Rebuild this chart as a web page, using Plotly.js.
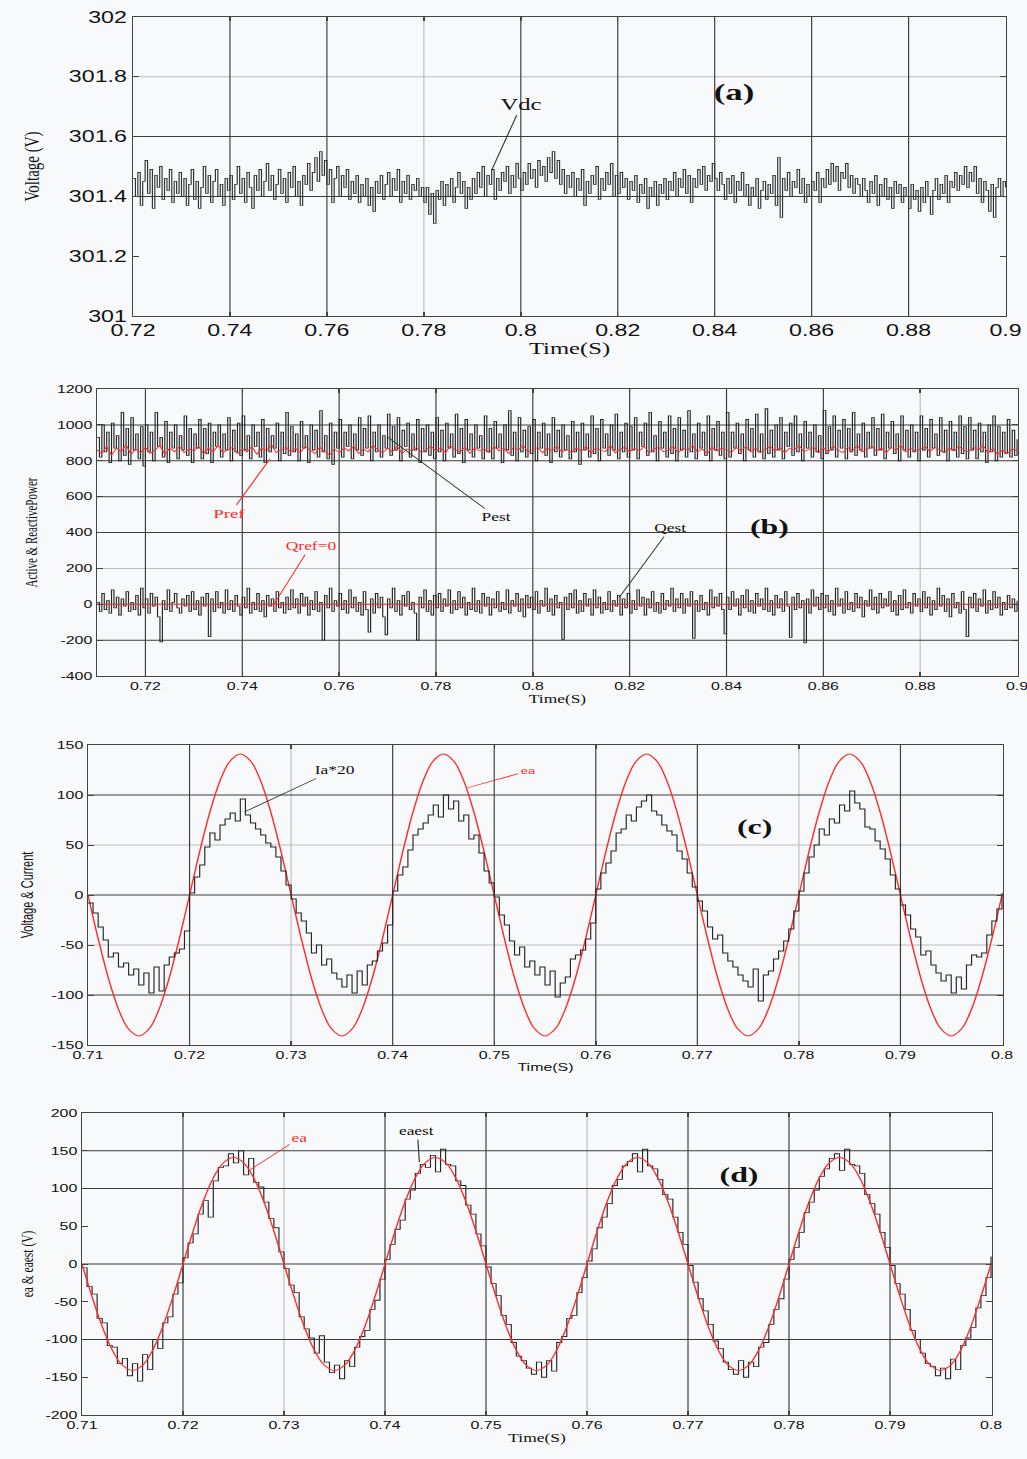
<!DOCTYPE html>
<html><head><meta charset="utf-8">
<script src="https://cdn.plot.ly/plotly-3.0.1.min.js"></script>
<style>
html,body{margin:0;padding:0;background:#f8f9fb;overflow:hidden;width:1027px;height:1459px;}
#chart{width:708px;height:1459px;transform:scaleX(1.4506);transform-origin:0 0;}
</style></head><body><div id="chart"></div>
<script>
// ---------- (a) DC-link voltage, sampled every 0.5 ms from 0.72 s ----------
const vdc = [
301.46,301.40,301.48,301.37,301.45,301.52,301.41,301.49,301.36,301.47,301.43,301.50,301.39,301.46,301.42,301.49,301.38,301.45,301.41,301.48,
301.40,301.46,301.37,301.44,301.49,301.39,301.45,301.36,301.43,301.50,301.41,301.47,301.38,301.45,301.49,301.40,301.44,301.37,301.46,301.42,
301.47,301.39,301.44,301.50,301.41,301.46,301.38,301.48,301.43,301.36,301.47,301.42,301.49,301.40,301.45,301.51,301.42,301.47,301.39,301.44,
301.49,301.41,301.46,301.38,301.48,301.43,301.50,301.40,301.45,301.37,301.47,301.44,301.51,301.42,301.48,301.53,301.45,301.55,301.47,301.52,
301.44,301.49,301.38,301.46,301.50,301.40,301.47,301.43,301.49,301.39,301.45,301.41,301.47,301.38,301.44,301.40,301.46,301.37,301.43,301.35,
301.45,301.41,301.47,301.39,301.44,301.48,301.40,301.46,301.42,301.49,301.38,301.45,301.41,301.47,301.39,301.44,301.42,301.46,301.40,301.43,
301.38,301.43,301.34,301.41,301.31,301.42,301.39,301.45,301.37,301.44,301.40,301.46,301.38,301.43,301.48,301.41,301.45,301.36,301.43,301.39,
301.46,301.41,301.48,301.43,301.50,301.40,301.47,301.44,301.49,301.39,301.46,301.42,301.48,301.45,301.50,301.41,301.47,301.43,301.51,301.46,
301.42,301.48,301.44,301.51,301.46,301.49,301.43,301.52,301.47,301.50,301.45,301.53,301.48,301.55,301.46,301.52,301.44,301.49,301.41,301.47,
301.43,301.48,301.40,301.46,301.42,301.49,301.37,301.45,301.41,301.47,301.44,301.50,301.39,301.46,301.42,301.48,301.44,301.51,301.40,301.47,
301.41,301.48,301.43,301.46,301.39,301.45,301.42,301.47,301.38,301.44,301.41,301.46,301.36,301.43,301.40,301.45,301.37,301.44,301.41,301.46,
301.39,301.45,301.42,301.48,301.40,301.46,301.43,301.49,301.41,301.47,301.38,301.46,301.43,301.49,301.44,301.50,301.42,301.47,301.45,301.51,
301.46,301.42,301.48,301.44,301.39,301.46,301.41,301.47,301.38,301.45,301.42,301.48,301.40,301.44,301.37,301.43,301.40,301.46,301.36,301.42,
301.45,301.39,301.44,301.41,301.47,301.37,301.53,301.33,301.46,301.42,301.48,301.40,301.45,301.43,301.49,301.41,301.46,301.38,301.44,301.40,
301.45,301.42,301.48,301.38,301.46,301.43,301.49,301.44,301.51,301.45,301.50,301.42,301.48,301.46,301.51,301.43,301.47,301.41,301.46,301.44,
301.40,301.46,301.42,301.38,301.45,301.41,301.47,301.37,301.44,301.40,301.46,301.39,301.43,301.36,301.45,301.41,301.44,301.38,301.43,301.40,
301.36,301.44,301.39,301.42,301.35,301.43,301.38,301.45,301.40,301.34,301.42,301.46,301.39,301.44,301.41,301.47,301.38,301.45,301.43,301.48,
301.42,301.47,301.44,301.50,301.43,301.48,301.45,301.50,301.41,301.46,301.38,301.45,301.42,301.35,301.44,301.33,301.43,301.46,301.40,301.45,
301.43];

// ---------- (b) active / reactive power, every 0.5 ms from 0.71 s ----------
const pest = [
930,820,1000,850,960,790,1010,870,940,800,1070,830,980,780,1040,860,950,810,990,770,
1000,850,960,800,1070,880,930,820,1020,790,960,870,1000,810,940,860,1050,830,980,790,
950,870,1030,810,980,840,1010,790,960,880,1000,820,950,860,1040,800,970,850,1010,830,
1050,860,940,810,1000,880,960,820,1030,790,980,850,940,870,1010,800,960,840,1070,830,
990,850,950,800,1020,870,940,790,1000,860,970,820,1080,850,940,810,1010,780,960,870,
1030,820,960,880,1000,810,950,860,1040,830,980,870,1050,800,960,850,1000,820,940,870,
1060,830,990,860,1040,800,970,880,1010,820,950,860,1030,790,980,850,1000,830,960,810,
1040,850,970,800,1010,870,950,820,1060,840,980,790,1030,860,950,820,1000,870,940,810,
1050,850,980,810,1020,870,950,790,1000,860,1080,830,960,800,1040,850,970,820,990,840,
1030,800,960,870,1010,830,950,790,1040,850,970,820,1000,860,940,810,1020,850,960,780,
1010,860,950,820,1050,840,980,800,1030,870,950,830,1000,860,1060,810,960,850,1010,820,
990,860,1040,810,960,880,1010,830,1070,850,940,800,1020,870,960,820,1050,840,980,800,
1040,860,970,820,1080,850,950,810,1010,870,960,830,1050,800,980,860,1020,830,960,810,
1070,820,960,870,1010,840,950,800,1030,860,980,820,1060,850,950,810,1090,840,970,820,
1000,860,1040,810,960,880,1010,830,1050,850,950,800,1020,870,960,820,1000,850,940,810,
1080,840,990,860,1050,820,970,870,1030,810,980,850,1070,830,950,860,1010,820,960,870,
1040,830,980,860,1060,810,960,870,1020,840,950,800,1050,860,970,820,1000,850,960,800,
1050,860,980,820,1030,870,950,830,1040,850,970,800,1020,860,960,820,1050,840,990,810,
1040,860,970,810,1010,850,960,790,1000,850,1050,800,990,820,960,840,1030,820,970,830,
920];
// Pref every 1 ms from 0.71 s
const pref = [
860,840,880,830,870,850,890,835,865,845,
875,840,860,885,835,870,850,880,845,865,
855,880,840,870,850,885,845,860,875,840,
865,850,880,835,870,855,890,845,860,875,
850,870,845,880,860,840,875,855,830,865,
845,870,855,880,840,865,850,885,860,845,
870,850,880,840,865,855,875,845,860,880,
855,870,845,885,860,850,875,840,870,855,
865,845,880,855,870,840,875,860,885,850,
860,875,845,870,855,880,850,865,845,870,
855,880,845,870,860,850,885,845,865,875,
850,870,855,880,845,865,875,850,860,880,
845,870,860,885,850,865,840,875,855,870,
860,845,875,855,880,850,870,845,865,880,
855,875,845,870,860,885,850,865,875,845,
870,850,880,860,845,875,855,885,850,865,
880,855,870,845,875,860,885,850,870,855,
865,880,850,875,860,845,870,855,880,860,
850,875,860,885,845,870,835,860,840,865,
855];
const qest = [
10,-40,60,-30,20,-50,80,-20,40,-60,30,-10,70,-40,10,-30,50,-60,90,-20,
30,-50,60,-10,40,-70,-210,20,-30,80,-40,10,60,-20,-50,30,-10,50,-40,70,
-30,20,-60,40,-10,60,-180,30,-40,70,-20,10,-50,80,-30,20,-40,50,-10,-60,
40,-20,90,-50,10,-30,60,-40,20,-70,50,-10,30,-40,70,-20,10,-50,40,-30,
80,-20,30,-50,60,-10,40,-60,20,-30,70,-40,10,-200,50,-20,90,-40,20,-10,
60,-30,20,-50,80,-20,40,-40,10,-60,70,-30,-155,30,-50,60,-20,40,-70,-170,
30,-20,90,-40,20,-60,50,-10,70,-30,10,-50,-200,40,-20,80,-40,20,-60,50,
-20,60,-40,30,-10,80,-50,20,-30,70,-20,40,-60,10,-30,90,-40,20,-50,60,
-10,40,-60,30,-20,70,-40,10,-30,80,-50,20,-10,60,-40,30,-70,50,-20,40,
-30,70,-50,20,-10,90,-40,30,-60,50,-20,10,-195,40,-30,60,-20,80,-50,20,
-40,60,-10,30,-60,80,-20,40,-50,10,-30,70,-40,20,-10,50,-60,30,-20,60,
-50,20,-30,80,-10,40,-60,30,-20,70,-40,10,-50,60,-30,20,-10,90,-40,30,
-20,60,-50,30,-10,70,-190,20,-40,50,-30,10,-60,80,-20,40,-10,60,-30,-165,
40,-30,70,-10,30,-60,50,-20,80,-40,20,-50,60,-10,30,-30,90,-40,20,-60,
50,-20,30,-40,70,-10,-185,40,-30,60,-20,20,-215,30,-50,80,-10,40,-30,60,
-20,50,-40,20,-60,90,-10,30,-50,70,-30,10,-40,60,-20,40,-70,20,-10,80,
-30,40,-50,60,-20,30,-10,70,-40,20,-60,50,-30,80,-20,10,-50,60,-10,30,
-40,70,-20,40,-60,20,-30,90,-10,50,-40,30,-70,60,-20,10,-50,70,-30,-180,
40,-20,60,-40,30,-10,80,-50,20,-30,70,-20,40,-60,10,-30,50,-20,30,-40,
20];
const qrefT = [0.71, 0.90];
const qref = [0, 0];

// ---------- (c) phase current x20, every 0.5 ms from 0.71 s ----------
const ia20 = [
-8,-18,-32,-45,-62,-58,-72,-68,-80,-74,-90,-78,-98,-72,-96,-70,-62,-58,-54,-36,
2,18,30,48,62,55,70,76,82,74,96,80,72,66,60,52,48,38,24,10,
-4,-18,-26,-38,-58,-50,-70,-64,-78,-84,-92,-80,-98,-76,-90,-70,-66,-56,-48,-30,
4,20,28,45,60,66,72,80,90,78,100,86,94,74,80,56,60,42,24,12,
-2,-20,-30,-46,-60,-52,-72,-66,-80,-72,-90,-76,-102,-88,-82,-64,-60,-55,-44,-28,
6,22,32,44,62,66,80,74,88,94,100,84,80,70,64,60,44,36,22,8,
-6,-16,-32,-44,-40,-58,-66,-72,-80,-86,-92,-74,-106,-80,-76,-64,-56,-46,-34,-16,
4,22,38,50,66,60,76,72,90,84,104,92,86,68,66,54,46,36,20,6,
-10,-20,-34,-42,-60,-56,-70,-78,-86,-80,-98,-82,-94,-70,-60,-62,-58,-40,-26,-14,
2];
// grid voltage ea, every 1 ms from 0.71 s (used in c and d)
const ea = [
0,-43.6,-82.9,-114.1,-134.1,-141,-134.1,-114.1,-82.9,-43.6,0,43.6,82.9,114.1,134.1,141,134.1,114.1,82.9,43.6,
0,-43.6,-82.9,-114.1,-134.1,-141,-134.1,-114.1,-82.9,-43.6,0,43.6,82.9,114.1,134.1,141,134.1,114.1,82.9,43.6,
0,-43.6,-82.9,-114.1,-134.1,-141,-134.1,-114.1,-82.9,-43.6,0,43.6,82.9,114.1,134.1,141,134.1,114.1,82.9,43.6,
0,-43.6,-82.9,-114.1,-134.1,-141,-134.1,-114.1,-82.9,-43.6,0,43.6,82.9,114.1,134.1,141,134.1,114.1,82.9,43.6,
0,-43.6,-82.9,-114.1,-134.1,-141,-134.1,-114.1,-82.9,-43.6,0];
// ---------- (d) estimated voltage, every 0.5 ms from 0.71 s ----------
const eaest = [
-5,-30,-40,-72,-78,-108,-110,-132,-125,-148,-132,-155,-120,-140,-100,-112,-78,-70,-40,-25,
8,28,40,66,84,62,110,128,130,146,134,150,118,140,108,102,82,60,48,16,
-6,-28,-38,-70,-86,-98,-118,-95,-130,-144,-134,-152,-128,-136,-110,-96,-88,-60,-48,-20,
6,26,46,58,86,98,120,132,128,144,122,152,132,130,110,104,78,66,40,24,
-4,-26,-42,-68,-80,-104,-122,-128,-138,-146,-130,-150,-128,-142,-104,-96,-72,-68,-38,-18,
4,20,48,62,80,104,112,130,136,146,122,152,130,126,112,92,86,62,42,26,
-2,-24,-46,-62,-80,-102,-112,-130,-140,-146,-128,-150,-130,-136,-110,-104,-80,-60,-46,-20,
6,22,42,68,82,98,116,126,140,146,124,152,132,130,120,92,80,66,42,22,
-2,-26,-40,-60,-88,-100,-118,-132,-136,-148,-138,-152,-126,-140,-108,-98,-84,-58,-42,-18,
10];

// ---------- tick values / labels ----------
const tickA_x = [0.72,0.74,0.76,0.78,0.80,0.82,0.84,0.86,0.88,0.90];
const tickA_xt = ["0.72","0.74","0.76","0.78","0.8","0.82","0.84","0.86","0.88","0.9"];
const tickA_y = [301,301.2,301.4,301.6,301.8,302];
const tickA_yt = ["301","301.2","301.4","301.6","301.8","302"];
const tickB_y = [-400,-200,0,200,400,600,800,1000,1200];
const tickB_yt = ["-400","-200","0","200","400","600","800","1000","1200"];
const tickC_x = [0.71,0.72,0.73,0.74,0.75,0.76,0.77,0.78,0.79,0.80];
const tickC_xt = ["0.71","0.72","0.73","0.74","0.75","0.76","0.77","0.78","0.79","0.8"];
const tickC_y = [-150,-100,-50,0,50,100,150];
const tickC_yt = ["-150","-100","-50","0","50","100","150"];
const tickD_y = [-200,-150,-100,-50,0,50,100,150,200];
const tickD_yt = ["-200","-150","-100","-50","0","50","100","150","200"];

// ---------- grid lines drawn in each panel (dark / light) ----------
const gridA = {xd:[0.74,0.76,0.80,0.82,0.84,0.86,0.88], xl:[0.78], yd:[301.4,301.6], yl:[301.8]};
const gridB = {xd:[0.72,0.74,0.76,0.78,0.80,0.82,0.84,0.86], xl:[0.88], yd:[-200,400,600,800,1000], yl:[0,200]};
const gridC = {xd:[0.72,0.74,0.75,0.76,0.77,0.79], xl:[0.73,0.78], yd:[-100,0,100], yl:[50,-50]};
const gridD = {xd:[0.72,0.74,0.75,0.77,0.78,0.79], xl:[0.73,0.76], yd:[-100,0,100,150], yl:[]};

function timeAxis(t0, dt, n){const a=[];for(let i=0;i<n;i++)a.push(+(t0+i*dt).toFixed(5));return a;}
const tA = timeAxis(0.72,0.0005,vdc.length);
const tB = timeAxis(0.71,0.0005,pest.length);
const tBr = timeAxis(0.71,0.001,pref.length);
const tC = timeAxis(0.71,0.0005,ia20.length);
const tE = timeAxis(0.71,0.001,ea.length);

const W = 1027, H = 1459;
const dom = (x0,x1,y0,y1)=>({x:[x0/W,x1/W], y:[1-y1/H,1-y0/H]});
const dA = dom(133,1006,17,316), dB = dom(97,1018,389,676), dC = dom(88,1003,745,1045), dD = dom(82,992,1113,1415);

const dark = '#262626', red = '#ff2b2b';
const gDark = '#3c3c3c', gLight = '#bdbdbd';
function axis(domain, anchor, range, tv, tt, fsize, extra){
  return Object.assign({domain:domain, anchor:anchor, range:range, tickmode:'array', tickvals:tv, ticktext:tt,
    showline:true, linecolor:'#444', linewidth:1, mirror:'ticks', ticks:'inside', ticklen:4, tickcolor:'#444',
    showgrid:false, zeroline:false, fixedrange:true, ticklabeloverflow:'allow',
    tickfont:{family:'Liberation Sans, Arial, sans-serif', size:fsize, color:'#111'}}, extra||{});
}
function gridShapes(g, xr, yr){
  const s = [];
  const add = (vals, vertical, col, w) => vals.forEach(v => s.push(vertical ?
    {type:'line', xref:xr, yref:yr+' domain', x0:v, x1:v, y0:0, y1:1, line:{color:col, width:w}, layer:'below'} :
    {type:'line', xref:xr+' domain', yref:yr, x0:0, x1:1, y0:v, y1:v, line:{color:col, width:w}, layer:'below'}));
  add(g.xl, true, gLight, 0.8); add(g.yl, false, gLight, 1);
  add(g.xd, true, gDark, 0.8); add(g.yd, false, gDark, 1);
  return s;
}

const traces = [
  {x:tA, y:vdc, xaxis:'x', yaxis:'y', mode:'lines', line:{color:'#333', width:0.8, shape:'hv'}, name:'Vdc'},
  {x:tB, y:pest, xaxis:'x2', yaxis:'y2', mode:'lines', line:{color:dark, width:0.8, shape:'hv'}, name:'Pest'},
  {x:tBr, y:pref, xaxis:'x2', yaxis:'y2', mode:'lines', line:{color:red, width:0.8}, name:'Pref'},
  {x:tB, y:qest, xaxis:'x2', yaxis:'y2', mode:'lines', line:{color:dark, width:0.8, shape:'hv'}, name:'Qest'},
  {x:qrefT, y:qref, xaxis:'x2', yaxis:'y2', mode:'lines', line:{color:red, width:1}, name:'Qref'},
  {x:tE, y:ea, xaxis:'x3', yaxis:'y3', mode:'lines', line:{color:red, width:1, shape:'spline'}, name:'ea'},
  {x:tC, y:ia20, xaxis:'x3', yaxis:'y3', mode:'lines', line:{color:dark, width:0.8, shape:'hv'}, name:'Ia*20'},
  {x:tC, y:eaest, xaxis:'x4', yaxis:'y4', mode:'lines', line:{color:dark, width:0.8, shape:'hv'}, name:'eaest'},
  {x:tE, y:ea, xaxis:'x4', yaxis:'y4', mode:'lines', line:{color:red, width:1, shape:'spline'}, name:'ea'}
];

const serif = 'Liberation Serif, Times New Roman, serif';
const sans = 'Liberation Sans, Arial, sans-serif';
const layout = {
  width:708, height:1459, margin:{l:0,r:0,t:0,b:0}, showlegend:false,
  paper_bgcolor:'#f8f9fb', plot_bgcolor:'#f8f9fb',
  xaxis: axis(dA.x,'y',[0.72,0.9001],tickA_x,tickA_xt,16,{title:{text:'Time(S)',font:{family:serif,size:17,color:'#111'},standoff:2}}),
  yaxis: axis(dA.y,'x',[301,302],tickA_y,tickA_yt,16,{title:{text:'Voltage (V)',font:{family:serif,size:15,color:'#111'},standoff:16}}),
  xaxis2: axis(dB.x,'y2',[0.71,0.9002],tickA_x,tickA_xt,11,{title:{text:'Time(S)',font:{family:serif,size:12,color:'#111'},standoff:2}}),
  yaxis2: axis(dB.y,'x2',[-400,1200],tickB_y,tickB_yt,11,{title:{text:'Active & ReactivePower',font:{family:serif,size:11,color:'#111'},standoff:10}}),
  xaxis3: axis(dC.x,'y3',[0.71,0.8001],tickC_x,tickC_xt,11,{title:{text:'Time(S)',font:{family:sans,size:11,color:'#111'},standoff:3}}),
  yaxis3: axis(dC.y,'x3',[-150,150],tickC_y,tickC_yt,11,{title:{text:'Voltage & Current',font:{family:sans,size:11,color:'#111'},standoff:9}}),
  xaxis4: axis(dD.x,'y4',[0.71,0.8001],tickC_x,tickC_xt,11,{title:{text:'Time(S)',font:{family:serif,size:12,color:'#111'},standoff:3}, linewidth:1.2}),
  yaxis4: axis(dD.y,'x4',[-200,200],tickD_y,tickD_yt,11,{title:{text:'ea & eaest (V)',font:{family:serif,size:11.5,color:'#111'},standoff:5}}),
  shapes: [].concat(gridShapes(gridA,'x','y'), gridShapes(gridB,'x2','y2'), gridShapes(gridC,'x3','y3'), gridShapes(gridD,'x4','y4')),
  annotations: [
    {xref:'x',yref:'y',x:0.794,y:301.488,ax:20.7,ay:-66,text:'Vdc',showarrow:true,arrowhead:0,arrowwidth:0.8,arrowcolor:'#333',font:{family:serif,size:17,color:'#111'}},
    {xref:'x',yref:'y',x:0.8441,y:301.749,text:'(a)',showarrow:false,font:{family:serif,size:24,color:'#111',weight:'bold'}},
    {xref:'x2',yref:'y2',x:0.7457,y:810,ax:-27.6,ay:55,text:'Pref',showarrow:true,arrowhead:0,arrowwidth:0.8,arrowcolor:red,font:{family:serif,size:13,color:red}},
    {xref:'x2',yref:'y2',x:0.770,y:932,ax:75,ay:80,text:'Pest',showarrow:true,arrowhead:0,arrowwidth:0.8,arrowcolor:'#333',font:{family:serif,size:12,color:'#111'}},
    {xref:'x2',yref:'y2',x:0.8179,y:40,ax:35,ay:-69,text:'Qest',showarrow:true,arrowhead:0,arrowwidth:0.8,arrowcolor:'#333',font:{family:serif,size:12,color:'#111'}},
    {xref:'x2',yref:'y2',x:0.7463,y:-10,ax:26,ay:-60,text:'Qref=0',showarrow:true,arrowhead:0,arrowwidth:0.8,arrowcolor:red,font:{family:serif,size:12,color:red}},
    {xref:'x2',yref:'y2',x:0.8488,y:436,text:'(b)',showarrow:false,font:{family:serif,size:22,color:'#111',weight:'bold'}},
    {xref:'x3',yref:'y3',x:0.7254,y:83,ax:62,ay:-42,text:'Ia*20',showarrow:true,arrowhead:0,arrowwidth:0.8,arrowcolor:'#333',font:{family:serif,size:12,color:'#111'}},
    {xref:'x3',yref:'y3',x:0.7473,y:107,ax:42,ay:-17,text:'ea',showarrow:true,arrowhead:0,arrowwidth:0.8,arrowcolor:red,font:{family:sans,size:9,color:red}},
    {xref:'x3',yref:'y3',x:0.7756,y:69,text:'(c)',showarrow:false,font:{family:serif,size:22,color:'#111',weight:'bold'}},
    {xref:'x4',yref:'y4',x:0.7266,y:124.5,ax:34.5,ay:-32,text:'ea',showarrow:true,arrowhead:0,arrowwidth:0.8,arrowcolor:red,font:{family:serif,size:12,color:red}},
    {xref:'x4',yref:'y4',x:0.7434,y:135,ax:-1.4,ay:-31,text:'eaest',showarrow:true,arrowhead:0,arrowwidth:0.8,arrowcolor:'#333',font:{family:serif,size:12,color:'#111'}},
    {xref:'x4',yref:'y4',x:0.7751,y:118,text:'(d)',showarrow:false,font:{family:serif,size:22,color:'#111',weight:'bold'}}
  ]
};
Plotly.newPlot('chart', traces, layout, {staticPlot:true, displayModeBar:false});
</script></body></html>
